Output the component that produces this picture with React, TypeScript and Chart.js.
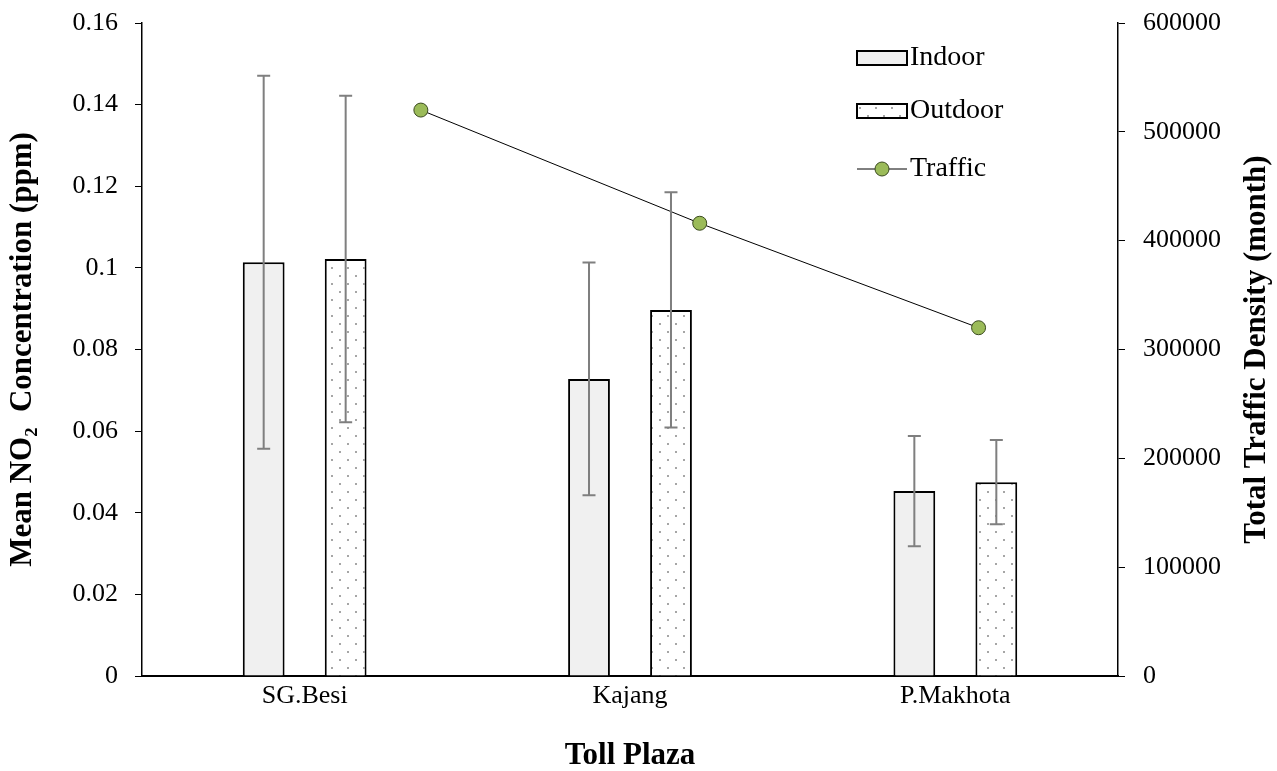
import React, { useEffect, useRef } from "react";
import { Chart, registerables, BarController } from "chart.js";

Chart.register(...registerables);

// The line series lives on its own (secondary) x axis; keep the bars grouped as a pair.
(BarController.prototype as any)._getAxisCount = function () {
  return 1;
};

const categories = ["SG.Besi", "Kajang", "P.Makhota"];
const indoorValues = [0.1014, 0.0728, 0.0453];
const indoorErrors = [0.0457, 0.0285, 0.0135];
const outdoorValues = [0.1022, 0.0897, 0.0475];
const outdoorErrors = [0.04, 0.0288, 0.0103];
const trafficValues = [520000, 416000, 320000];
const trafficPositions = [0, 1, 2];

const FONT = "'Liberation Serif', 'Times New Roman', serif";
const TICK_SIZE = 26;
const TITLE_SIZE = 31;
const LEGEND_SIZE = 28;

function makeDotPattern(): CanvasPattern | string {
  const c = document.createElement("canvas");
  c.width = 16;
  c.height = 16;
  const g = c.getContext("2d");
  if (!g) return "#ffffff";
  g.fillStyle = "#ffffff";
  g.fillRect(0, 0, 16, 16);
  g.fillStyle = "#a6a6a6";
  g.fillRect(3, 3, 2, 2);
  g.fillRect(11, 11, 2, 2);
  const p = g.createPattern(c, "repeat");
  return p || "#ffffff";
}

export default function App() {
  const ref = useRef<HTMLCanvasElement | null>(null);

  useEffect(() => {
    if (!ref.current) return;
    const pattern = makeDotPattern();

    const errorBars = {
      id: "errorBars",
      afterDatasetsDraw(chart: any) {
        const ctx = chart.ctx;
        const yScale = chart.scales.y;
        const sets = [
          { idx: 0, vals: indoorValues, errs: indoorErrors },
          { idx: 1, vals: outdoorValues, errs: outdoorErrors },
        ];
        ctx.save();
        ctx.strokeStyle = "#7f7f7f";
        ctx.lineWidth = 2;
        sets.forEach((s) => {
          const meta = chart.getDatasetMeta(s.idx);
          meta.data.forEach((el: any, i: number) => {
            const x = el.x;
            const yt = yScale.getPixelForValue(s.vals[i] + s.errs[i]);
            const yb = yScale.getPixelForValue(s.vals[i] - s.errs[i]);
            ctx.beginPath();
            ctx.moveTo(x, yt);
            ctx.lineTo(x, yb);
            ctx.moveTo(x - 6.5, yt);
            ctx.lineTo(x + 6.5, yt);
            ctx.moveTo(x - 6.5, yb);
            ctx.lineTo(x + 6.5, yb);
            ctx.stroke();
          });
        });
        ctx.restore();
      },
    };

    const extras = {
      id: "extras",
      afterDraw(chart: any) {
        const ctx = chart.ctx;
        const area = chart.chartArea;
        ctx.save();
        ctx.fillStyle = "#000";
        ctx.font = `bold ${TITLE_SIZE}px ${FONT}`;
        ctx.textAlign = "center";
        ctx.textBaseline = "middle";
        ctx.translate(1257, (area.top + area.bottom) / 2);
        ctx.rotate(-Math.PI / 2);
        ctx.fillText("Total Traffic Density (month)", 0, 0);
        ctx.restore();

        ctx.save();
        const bx = 857;
        const bw = 50;
        const bh = 14;
        const rows = [58, 111, 169];
        ctx.strokeStyle = "#000";
        ctx.lineWidth = 2;
        ctx.fillStyle = "#f0f0f0";
        ctx.fillRect(bx, rows[0] - bh / 2, bw, bh);
        ctx.strokeRect(bx, rows[0] - bh / 2, bw, bh);
        ctx.fillStyle = pattern as any;
        ctx.fillRect(bx, rows[1] - bh / 2, bw, bh);
        ctx.strokeRect(bx, rows[1] - bh / 2, bw, bh);
        ctx.lineWidth = 1;
        ctx.beginPath();
        ctx.moveTo(bx, rows[2]);
        ctx.lineTo(bx + bw, rows[2]);
        ctx.stroke();
        ctx.beginPath();
        ctx.arc(bx + bw / 2, rows[2], 7, 0, Math.PI * 2);
        ctx.fillStyle = "#9bbb59";
        ctx.fill();
        ctx.strokeStyle = "#3a4a1f";
        ctx.stroke();
        ctx.fillStyle = "#000";
        ctx.font = `${LEGEND_SIZE}px ${FONT}`;
        ctx.textAlign = "left";
        ctx.textBaseline = "middle";
        ctx.fillText("Indoor", bx + bw + 3, rows[0]);
        ctx.fillText("Outdoor", bx + bw + 3, rows[1]);
        ctx.fillText("Traffic", bx + bw + 3, rows[2]);
        ctx.restore();
      },
    };

    const noPad = (s: any) => {
      s.paddingTop = 0;
      s.paddingBottom = 0;
      s.paddingLeft = 0;
      s.paddingRight = 0;
    };

    const chart = new Chart(ref.current, {
      type: "bar",
      data: {
        labels: categories,
        datasets: [
          {
            type: "bar",
            label: "Indoor",
            data: indoorValues,
            backgroundColor: "#f0f0f0",
            borderColor: "#000",
            borderWidth: 2,
            xAxisID: "x",
            yAxisID: "y",
            categoryPercentage: 0.504,
            barPercentage: 0.51,
            order: 2,
          } as any,
          {
            type: "bar",
            label: "Outdoor",
            data: outdoorValues,
            backgroundColor: pattern as any,
            borderColor: "#000",
            borderWidth: 2,
            xAxisID: "x",
            yAxisID: "y",
            categoryPercentage: 0.504,
            barPercentage: 0.51,
            order: 2,
          } as any,
          {
            type: "line",
            label: "Traffic",
            data: trafficPositions.map((p, i) => ({ x: p, y: trafficValues[i] })),
            borderColor: "#000",
            borderWidth: 1,
            pointRadius: 7,
            pointBackgroundColor: "#9bbb59",
            pointBorderColor: "#3a4a1f",
            pointBorderWidth: 1,
            xAxisID: "x2",
            yAxisID: "y2",
            order: 1,
          } as any,
        ],
      },
      options: {
        animation: false,
        responsive: true,
        maintainAspectRatio: false,
        layout: { padding: { top: 23, left: 0, right: 0, bottom: 0 } },
        plugins: {
          legend: { display: false },
          tooltip: { enabled: false },
        },
        scales: {
          x: {
            type: "category",
            position: "bottom",
            offset: true,
            grid: { display: true, drawOnChartArea: false, drawTicks: false, offset: true },
            border: { display: true, color: "#000", width: 2 },
            ticks: { color: "#000", font: { family: FONT, size: TICK_SIZE }, padding: 5 },
            title: {
              display: true,
              text: "Toll Plaza",
              color: "#000",
              font: { family: FONT, size: TITLE_SIZE, weight: "bold", lineHeight: 1 },
              padding: { top: 0, bottom: 0 },
            },
            afterFit: (s: any) => {
              s.height = 95;
              noPad(s);
            },
          },
          x2: {
            type: "linear",
            display: false,
            offset: false,
            min: -1,
            max: 2.5,
            grid: { offset: false },
          },
          y: {
            type: "linear",
            position: "left",
            min: 0,
            max: 0.16,
            grid: { drawOnChartArea: false, drawTicks: true, tickLength: 7, color: "#000" },
            border: { display: true, color: "#000", width: 1.5 },
            ticks: {
              stepSize: 0.02,
              color: "#000",
              font: { family: FONT, size: TICK_SIZE },
              padding: 17,
              callback: (v: any) => String(Math.round(Number(v) * 100) / 100),
            },
            title: {
              display: true,
              text: "Mean NO\u2082  Concentration (ppm)",
              color: "#000",
              font: { family: FONT, size: TITLE_SIZE, weight: "bold", lineHeight: 1 },
              padding: { top: 7, bottom: 0 },
            },
            afterFit: (s: any) => {
              s.width = 142;
              noPad(s);
            },
          },
          y2: {
            type: "linear",
            position: "right",
            min: 0,
            max: 600000,
            grid: { drawOnChartArea: false, drawTicks: true, tickLength: 7, color: "#000" },
            border: { display: true, color: "#000", width: 1.5 },
            ticks: {
              stepSize: 100000,
              color: "#000",
              font: { family: FONT, size: TICK_SIZE },
              padding: 18,
              callback: (v: any) => String(v),
            },
            afterFit: (s: any) => {
              s.width = 159;
              noPad(s);
            },
          },
        },
      } as any,
      plugins: [errorBars, extras],
    });

    return () => chart.destroy();
  }, []);

  return (
    <div style={{ position: "fixed", left: 0, top: 0, width: 1277, height: 771, background: "#fff" }}>
      <canvas ref={ref} />
    </div>
  );
}
